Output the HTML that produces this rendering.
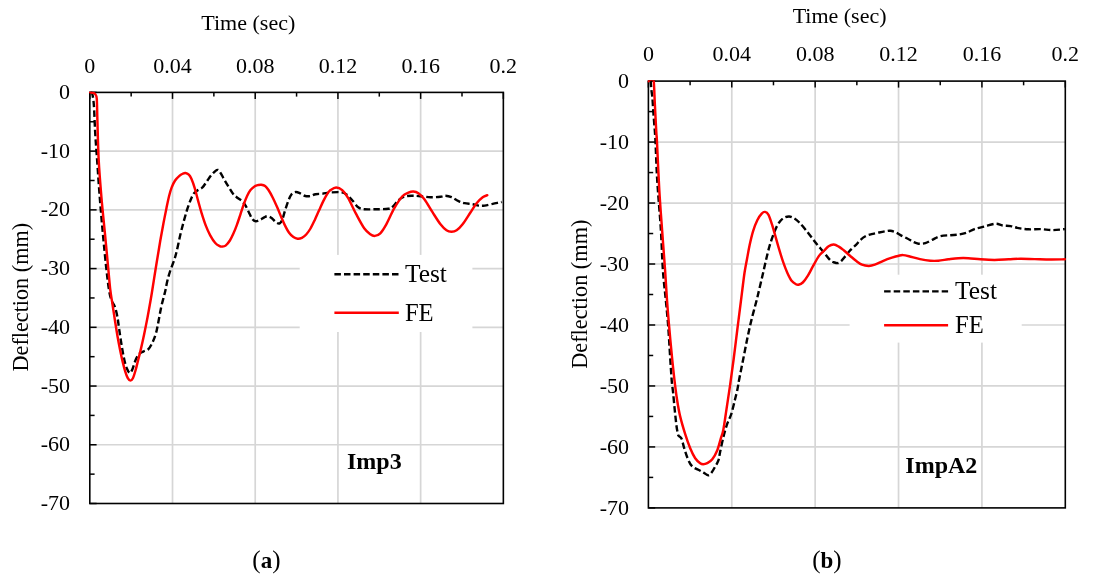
<!DOCTYPE html>
<html><head><meta charset="utf-8"><title>Deflection time histories</title>
<style>
html,body{margin:0;padding:0;background:#fff;}
body{width:1096px;height:584px;overflow:hidden;font-family:"Liberation Serif",serif;}
svg{display:block;will-change:transform;opacity:0.999;}
text{font-family:"Liberation Serif",serif;fill:#000;}
.g{stroke:#d6d6d6;stroke-width:1.7;fill:none;}
.t{stroke:#000;stroke-width:1.5;fill:none;}
.b{stroke:#000;stroke-width:1.6;fill:none;}
.fe{stroke:#ff0000;stroke-width:2.45;fill:none;stroke-linejoin:round;stroke-linecap:round;}
.te{stroke:#000;stroke-width:2.4;fill:none;stroke-dasharray:6.5 3.1;stroke-linejoin:round;}
</style></head><body>
<svg width="1096" height="584" viewBox="0 0 1096 584">
<rect width="1096" height="584" fill="#fff"/>
<defs>
<clipPath id="cl"><rect x="89.00" y="91.60" width="415.15" height="412.70"/></clipPath>
<clipPath id="cr"><rect x="647.60" y="80.30" width="418.50" height="428.40"/></clipPath>
</defs>
<g>
<line x1="172.51" y1="92.40" x2="172.51" y2="503.50" class="g"/>
<line x1="255.22" y1="92.40" x2="255.22" y2="503.50" class="g"/>
<line x1="337.93" y1="92.40" x2="337.93" y2="503.50" class="g"/>
<line x1="420.64" y1="92.40" x2="420.64" y2="503.50" class="g"/>
<line x1="89.80" y1="151.13" x2="503.35" y2="151.13" class="g"/>
<line x1="89.80" y1="209.86" x2="503.35" y2="209.86" class="g"/>
<line x1="89.80" y1="268.59" x2="503.35" y2="268.59" class="g"/>
<line x1="89.80" y1="327.31" x2="503.35" y2="327.31" class="g"/>
<line x1="89.80" y1="386.04" x2="503.35" y2="386.04" class="g"/>
<line x1="89.80" y1="444.77" x2="503.35" y2="444.77" class="g"/>
<rect x="299.7" y="254.9" width="172.7" height="77.1" fill="#fff"/>
<line x1="89.80" y1="92.40" x2="89.80" y2="98.90" class="t"/>
<line x1="131.16" y1="92.40" x2="131.16" y2="96.60" class="t"/>
<line x1="172.51" y1="92.40" x2="172.51" y2="98.90" class="t"/>
<line x1="213.87" y1="92.40" x2="213.87" y2="96.60" class="t"/>
<line x1="255.22" y1="92.40" x2="255.22" y2="98.90" class="t"/>
<line x1="296.57" y1="92.40" x2="296.57" y2="96.60" class="t"/>
<line x1="337.93" y1="92.40" x2="337.93" y2="98.90" class="t"/>
<line x1="379.29" y1="92.40" x2="379.29" y2="96.60" class="t"/>
<line x1="420.64" y1="92.40" x2="420.64" y2="98.90" class="t"/>
<line x1="462.00" y1="92.40" x2="462.00" y2="96.60" class="t"/>
<line x1="503.35" y1="92.40" x2="503.35" y2="98.90" class="t"/>
<line x1="89.80" y1="92.40" x2="96.60" y2="92.40" class="t"/>
<line x1="89.80" y1="121.76" x2="94.60" y2="121.76" class="t"/>
<line x1="89.80" y1="151.13" x2="96.60" y2="151.13" class="t"/>
<line x1="89.80" y1="180.49" x2="94.60" y2="180.49" class="t"/>
<line x1="89.80" y1="209.86" x2="96.60" y2="209.86" class="t"/>
<line x1="89.80" y1="239.22" x2="94.60" y2="239.22" class="t"/>
<line x1="89.80" y1="268.59" x2="96.60" y2="268.59" class="t"/>
<line x1="89.80" y1="297.95" x2="94.60" y2="297.95" class="t"/>
<line x1="89.80" y1="327.31" x2="96.60" y2="327.31" class="t"/>
<line x1="89.80" y1="356.68" x2="94.60" y2="356.68" class="t"/>
<line x1="89.80" y1="386.04" x2="96.60" y2="386.04" class="t"/>
<line x1="89.80" y1="415.41" x2="94.60" y2="415.41" class="t"/>
<line x1="89.80" y1="444.77" x2="96.60" y2="444.77" class="t"/>
<line x1="89.80" y1="474.14" x2="94.60" y2="474.14" class="t"/>
<line x1="89.80" y1="503.50" x2="96.60" y2="503.50" class="t"/>
<rect x="89.80" y="92.40" width="413.55" height="411.10" class="b"/>
<path class="te" clip-path="url(#cl)" d="M90.50,92.60 C90.80,92.83 91.73,91.83 92.30,94.00 C92.87,96.17 93.42,99.10 93.90,105.60 C94.38,112.10 94.67,123.93 95.20,133.00 C95.73,142.07 96.33,149.17 97.10,160.00 C97.87,170.83 98.83,185.67 99.80,198.00 C100.77,210.33 101.85,222.58 102.90,234.00 C103.95,245.42 105.08,257.17 106.10,266.50 C107.12,275.83 108.10,284.37 109.00,290.00 C109.90,295.63 110.50,297.45 111.50,300.30 C112.50,303.15 114.00,304.25 115.00,307.10 C116.00,309.95 116.80,313.68 117.50,317.40 C118.20,321.12 118.48,324.55 119.20,329.40 C119.92,334.25 120.93,341.37 121.80,346.50 C122.67,351.63 123.53,356.48 124.40,360.20 C125.27,363.92 126.08,366.67 127.00,368.80 C127.92,370.93 128.97,373.00 129.90,373.00 C130.83,373.00 131.67,370.93 132.60,368.80 C133.53,366.67 134.45,362.63 135.50,360.20 C136.55,357.77 137.62,355.63 138.90,354.20 C140.18,352.77 141.62,352.45 143.20,351.60 C144.78,350.75 146.83,350.67 148.40,349.10 C149.97,347.53 151.32,344.92 152.60,342.20 C153.88,339.48 155.10,336.37 156.10,332.80 C157.10,329.23 157.75,325.08 158.60,320.80 C159.45,316.52 160.33,311.10 161.20,307.10 C162.07,303.10 163.08,299.65 163.80,296.80 C164.52,293.95 164.93,292.55 165.50,290.00 C166.07,287.45 166.45,284.58 167.20,281.50 C167.95,278.42 168.83,275.08 170.00,271.50 C171.17,267.92 173.07,263.45 174.20,260.00 C175.33,256.55 175.80,254.92 176.80,250.80 C177.80,246.68 179.05,240.17 180.20,235.30 C181.35,230.43 182.55,225.87 183.70,221.60 C184.85,217.33 185.97,213.27 187.10,209.70 C188.23,206.13 189.37,202.92 190.50,200.20 C191.63,197.48 192.75,195.02 193.90,193.40 C195.05,191.78 195.97,191.50 197.40,190.50 C198.83,189.50 200.93,188.92 202.50,187.40 C204.07,185.88 205.37,183.40 206.80,181.40 C208.23,179.40 209.68,177.12 211.10,175.40 C212.52,173.68 214.17,172.02 215.30,171.10 C216.43,170.18 217.03,169.62 217.90,169.90 C218.77,170.18 219.35,171.03 220.50,172.80 C221.65,174.57 223.38,178.07 224.80,180.50 C226.22,182.93 227.57,185.12 229.00,187.40 C230.43,189.68 231.95,192.43 233.40,194.20 C234.85,195.97 236.27,196.85 237.70,198.00 C239.13,199.15 240.72,199.87 242.00,201.10 C243.28,202.33 244.27,203.55 245.40,205.40 C246.53,207.25 247.65,209.92 248.80,212.20 C249.95,214.48 251.15,217.58 252.30,219.10 C253.45,220.62 254.42,221.17 255.70,221.30 C256.98,221.43 258.58,220.55 260.00,219.90 C261.42,219.25 262.92,218.02 264.20,217.40 C265.48,216.78 266.42,216.07 267.70,216.20 C268.98,216.33 270.48,217.15 271.90,218.20 C273.32,219.25 274.90,221.63 276.20,222.50 C277.50,223.37 278.70,223.83 279.70,223.40 C280.70,222.97 281.35,221.90 282.20,219.90 C283.05,217.90 283.80,214.53 284.80,211.40 C285.80,208.27 287.07,203.97 288.20,201.10 C289.33,198.23 290.32,195.72 291.60,194.20 C292.88,192.68 294.47,192.13 295.90,192.00 C297.33,191.87 298.63,192.73 300.20,193.40 C301.77,194.07 303.58,195.57 305.30,196.00 C307.02,196.43 308.78,196.30 310.50,196.00 C312.22,195.70 313.60,194.58 315.60,194.20 C317.60,193.82 320.10,193.98 322.50,193.70 C324.90,193.42 327.07,192.75 330.00,192.50 C332.93,192.25 337.40,191.92 340.10,192.20 C342.80,192.48 344.18,192.87 346.20,194.20 C348.22,195.53 350.20,198.03 352.20,200.20 C354.20,202.37 356.20,205.70 358.20,207.20 C360.20,208.70 361.18,208.87 364.20,209.20 C367.22,209.53 372.28,209.27 376.30,209.20 C380.32,209.13 385.47,209.30 388.30,208.80 C391.13,208.30 391.62,207.63 393.30,206.20 C394.98,204.77 396.55,201.80 398.40,200.20 C400.25,198.60 402.07,197.33 404.40,196.60 C406.73,195.87 409.73,195.87 412.40,195.80 C415.07,195.73 417.38,195.97 420.40,196.20 C423.42,196.43 427.15,197.10 430.50,197.20 C433.85,197.30 438.00,197.03 440.50,196.80 C443.00,196.57 443.67,195.73 445.50,195.80 C447.33,195.87 449.32,196.30 451.50,197.20 C453.68,198.10 456.42,200.20 458.60,201.20 C460.78,202.20 462.27,202.70 464.60,203.20 C466.93,203.70 470.27,203.80 472.60,204.20 C474.93,204.60 476.58,205.37 478.60,205.60 C480.62,205.83 482.35,205.90 484.70,205.60 C487.05,205.30 490.03,204.37 492.70,203.80 C495.37,203.23 499.20,202.53 500.70,202.20 C502.20,201.87 501.53,201.87 501.70,201.80"/>
<path class="fe" clip-path="url(#cl)" d="M90.10,92.40 C90.67,92.48 92.58,92.52 93.50,92.90 C94.42,93.28 95.05,93.65 95.60,94.70 C96.15,95.75 96.50,94.95 96.80,99.20 C97.10,103.45 97.08,110.07 97.40,120.20 C97.72,130.33 98.02,147.03 98.70,160.00 C99.38,172.97 100.45,185.67 101.50,198.00 C102.55,210.33 103.87,222.17 105.00,234.00 C106.13,245.83 107.42,259.67 108.30,269.00 C109.18,278.33 109.62,284.22 110.30,290.00 C110.98,295.78 111.62,298.57 112.40,303.70 C113.18,308.83 114.15,315.38 115.00,320.80 C115.85,326.22 116.65,331.35 117.50,336.20 C118.35,341.05 119.23,345.62 120.10,349.90 C120.97,354.18 121.85,358.33 122.70,361.90 C123.55,365.47 124.35,368.58 125.20,371.30 C126.05,374.02 126.93,376.65 127.80,378.20 C128.67,379.75 129.55,380.60 130.40,380.60 C131.25,380.60 132.05,379.88 132.90,378.20 C133.75,376.52 134.63,373.50 135.50,370.50 C136.37,367.50 137.23,363.63 138.10,360.20 C138.97,356.77 139.70,354.18 140.70,349.90 C141.70,345.62 142.97,339.92 144.10,334.50 C145.23,329.08 146.42,323.10 147.50,317.40 C148.58,311.70 149.80,304.87 150.60,300.30 C151.40,295.73 151.45,295.30 152.30,290.00 C153.15,284.70 154.58,275.42 155.70,268.50 C156.82,261.58 158.15,253.63 159.00,248.50 C159.85,243.37 160.03,242.02 160.80,237.70 C161.57,233.38 162.65,227.57 163.60,222.60 C164.55,217.63 165.58,212.33 166.50,207.90 C167.42,203.47 168.23,199.42 169.10,196.00 C169.97,192.58 170.70,189.98 171.70,187.40 C172.70,184.82 173.82,182.43 175.10,180.50 C176.38,178.57 178.12,176.93 179.40,175.80 C180.68,174.67 181.80,174.17 182.80,173.70 C183.80,173.23 184.40,172.85 185.40,173.00 C186.40,173.15 187.80,173.63 188.80,174.60 C189.80,175.57 190.40,176.52 191.40,178.80 C192.40,181.08 193.67,184.58 194.80,188.30 C195.93,192.02 197.07,196.97 198.20,201.10 C199.33,205.23 200.32,208.97 201.60,213.10 C202.88,217.23 204.47,222.20 205.90,225.90 C207.33,229.60 208.63,232.45 210.20,235.30 C211.77,238.15 213.73,241.20 215.30,243.00 C216.87,244.80 218.45,245.50 219.60,246.10 C220.75,246.70 221.20,246.68 222.20,246.60 C223.20,246.52 224.32,246.62 225.60,245.60 C226.88,244.58 228.60,242.50 229.90,240.50 C231.20,238.50 232.25,236.17 233.40,233.60 C234.55,231.03 235.65,228.23 236.80,225.10 C237.95,221.97 239.15,218.23 240.30,214.80 C241.45,211.37 242.57,207.63 243.70,204.50 C244.83,201.37 245.97,198.42 247.10,196.00 C248.23,193.58 249.22,191.63 250.50,190.00 C251.78,188.37 253.50,187.03 254.80,186.20 C256.10,185.37 257.22,185.25 258.30,185.00 C259.38,184.75 260.17,184.53 261.30,184.70 C262.43,184.87 263.90,185.12 265.10,186.00 C266.30,186.88 267.22,188.05 268.50,190.00 C269.78,191.95 271.37,194.85 272.80,197.70 C274.23,200.55 275.67,203.82 277.10,207.10 C278.53,210.38 280.12,214.40 281.40,217.40 C282.68,220.40 283.52,222.53 284.80,225.10 C286.08,227.67 287.67,230.80 289.10,232.80 C290.53,234.80 291.98,236.10 293.40,237.10 C294.82,238.10 296.18,238.67 297.60,238.80 C299.02,238.93 300.47,238.62 301.90,237.90 C303.33,237.18 304.77,236.07 306.20,234.50 C307.63,232.93 309.07,230.93 310.50,228.50 C311.93,226.07 313.38,222.90 314.80,219.90 C316.22,216.90 317.58,213.63 319.00,210.50 C320.42,207.37 321.87,203.95 323.30,201.10 C324.73,198.25 326.40,195.23 327.60,193.40 C328.80,191.57 329.08,191.08 330.50,190.10 C331.92,189.12 334.15,187.50 336.10,187.50 C338.05,187.50 340.18,188.32 342.20,190.10 C344.22,191.88 345.87,194.18 348.20,198.20 C350.53,202.22 353.53,209.18 356.20,214.20 C358.87,219.22 361.85,224.95 364.20,228.30 C366.55,231.65 368.52,233.03 370.30,234.30 C372.08,235.57 373.23,236.07 374.90,235.90 C376.57,235.73 378.40,235.23 380.30,233.30 C382.20,231.37 383.97,228.48 386.30,224.30 C388.63,220.12 391.62,212.88 394.30,208.20 C396.98,203.52 400.05,198.80 402.40,196.20 C404.75,193.60 406.57,193.38 408.40,192.60 C410.23,191.82 411.73,191.40 413.40,191.50 C415.07,191.60 416.57,191.92 418.40,193.20 C420.23,194.48 422.05,196.03 424.40,199.20 C426.75,202.37 429.82,208.02 432.50,212.20 C435.18,216.38 438.17,221.28 440.50,224.30 C442.83,227.32 444.67,229.07 446.50,230.30 C448.33,231.53 449.82,231.70 451.50,231.70 C453.18,231.70 454.75,231.53 456.60,230.30 C458.45,229.07 460.27,227.32 462.60,224.30 C464.93,221.28 468.27,215.72 470.60,212.20 C472.93,208.68 474.58,205.70 476.60,203.20 C478.62,200.70 480.92,198.53 482.70,197.20 C484.48,195.87 486.53,195.53 487.30,195.20"/>
<text x="89.80" y="73.00" text-anchor="middle" font-size="22">0</text>
<text x="172.51" y="73.00" text-anchor="middle" font-size="22">0.04</text>
<text x="255.22" y="73.00" text-anchor="middle" font-size="22">0.08</text>
<text x="337.93" y="73.00" text-anchor="middle" font-size="22">0.12</text>
<text x="420.64" y="73.00" text-anchor="middle" font-size="22">0.16</text>
<text x="503.35" y="73.00" text-anchor="middle" font-size="22">0.2</text>
<text x="70.00" y="98.94" text-anchor="end" font-size="22">0</text>
<text x="70.00" y="157.66" text-anchor="end" font-size="22">-10</text>
<text x="70.00" y="216.39" text-anchor="end" font-size="22">-20</text>
<text x="70.00" y="275.12" text-anchor="end" font-size="22">-30</text>
<text x="70.00" y="333.85" text-anchor="end" font-size="22">-40</text>
<text x="70.00" y="392.58" text-anchor="end" font-size="22">-50</text>
<text x="70.00" y="451.31" text-anchor="end" font-size="22">-60</text>
<text x="70.00" y="510.04" text-anchor="end" font-size="22">-70</text>
<text x="248.3" y="29.6" text-anchor="middle" font-size="22">Time (sec)</text>
<text transform="translate(27.5,297.2) rotate(-90)" text-anchor="middle" font-size="22.2">Deflection (mm)</text>
<line x1="334.4" y1="274.2" x2="398.8" y2="274.2" class="te"/>
<line x1="334.4" y1="312.8" x2="398.8" y2="312.8" class="fe" style="stroke-linecap:butt"/>
<text x="404.9" y="281.7" font-size="24.7" textLength="42" lengthAdjust="spacingAndGlyphs">Test</text>
<text x="404.9" y="320.8" font-size="24.6">FE</text>
<text x="347.0" y="468.7" font-size="24" font-weight="bold">Imp3</text>
<text x="266.4" y="567.8" text-anchor="middle" font-size="25">(<tspan font-weight="bold" font-size="23">a</tspan>)</text>
</g>
<g>
<line x1="731.78" y1="81.10" x2="731.78" y2="507.90" class="g"/>
<line x1="815.16" y1="81.10" x2="815.16" y2="507.90" class="g"/>
<line x1="898.54" y1="81.10" x2="898.54" y2="507.90" class="g"/>
<line x1="981.92" y1="81.10" x2="981.92" y2="507.90" class="g"/>
<line x1="648.40" y1="142.07" x2="1065.30" y2="142.07" class="g"/>
<line x1="648.40" y1="203.04" x2="1065.30" y2="203.04" class="g"/>
<line x1="648.40" y1="264.01" x2="1065.30" y2="264.01" class="g"/>
<line x1="648.40" y1="324.99" x2="1065.30" y2="324.99" class="g"/>
<line x1="648.40" y1="385.96" x2="1065.30" y2="385.96" class="g"/>
<line x1="648.40" y1="446.93" x2="1065.30" y2="446.93" class="g"/>
<rect x="849.6" y="274.7" width="172.1" height="67.9" fill="#fff"/>
<line x1="648.40" y1="81.10" x2="648.40" y2="87.60" class="t"/>
<line x1="690.09" y1="81.10" x2="690.09" y2="85.30" class="t"/>
<line x1="731.78" y1="81.10" x2="731.78" y2="87.60" class="t"/>
<line x1="773.47" y1="81.10" x2="773.47" y2="85.30" class="t"/>
<line x1="815.16" y1="81.10" x2="815.16" y2="87.60" class="t"/>
<line x1="856.85" y1="81.10" x2="856.85" y2="85.30" class="t"/>
<line x1="898.54" y1="81.10" x2="898.54" y2="87.60" class="t"/>
<line x1="940.23" y1="81.10" x2="940.23" y2="85.30" class="t"/>
<line x1="981.92" y1="81.10" x2="981.92" y2="87.60" class="t"/>
<line x1="1023.61" y1="81.10" x2="1023.61" y2="85.30" class="t"/>
<line x1="1065.30" y1="81.10" x2="1065.30" y2="87.60" class="t"/>
<line x1="648.40" y1="81.10" x2="655.20" y2="81.10" class="t"/>
<line x1="648.40" y1="111.59" x2="653.20" y2="111.59" class="t"/>
<line x1="648.40" y1="142.07" x2="655.20" y2="142.07" class="t"/>
<line x1="648.40" y1="172.56" x2="653.20" y2="172.56" class="t"/>
<line x1="648.40" y1="203.04" x2="655.20" y2="203.04" class="t"/>
<line x1="648.40" y1="233.53" x2="653.20" y2="233.53" class="t"/>
<line x1="648.40" y1="264.01" x2="655.20" y2="264.01" class="t"/>
<line x1="648.40" y1="294.50" x2="653.20" y2="294.50" class="t"/>
<line x1="648.40" y1="324.99" x2="655.20" y2="324.99" class="t"/>
<line x1="648.40" y1="355.47" x2="653.20" y2="355.47" class="t"/>
<line x1="648.40" y1="385.96" x2="655.20" y2="385.96" class="t"/>
<line x1="648.40" y1="416.44" x2="653.20" y2="416.44" class="t"/>
<line x1="648.40" y1="446.93" x2="655.20" y2="446.93" class="t"/>
<line x1="648.40" y1="477.41" x2="653.20" y2="477.41" class="t"/>
<line x1="648.40" y1="507.90" x2="655.20" y2="507.90" class="t"/>
<rect x="648.40" y="81.10" width="416.90" height="426.80" class="b"/>
<path class="te" clip-path="url(#cr)" d="M650.60,80.60 C650.73,82.17 651.10,87.15 651.40,90.00 C651.70,92.85 652.07,93.87 652.40,97.70 C652.73,101.53 652.98,107.28 653.40,113.00 C653.82,118.72 654.55,127.17 654.90,132.00 C655.25,136.83 655.18,135.20 655.50,142.00 C655.82,148.80 656.37,164.30 656.80,172.80 C657.23,181.30 657.42,183.45 658.10,193.00 C658.78,202.55 660.10,217.22 660.90,230.10 C661.70,242.98 662.08,258.65 662.90,270.30 C663.72,281.95 664.93,290.90 665.80,300.00 C666.67,309.10 667.38,315.53 668.10,324.90 C668.82,334.27 669.50,346.97 670.10,356.20 C670.70,365.43 671.20,374.23 671.70,380.30 C672.20,386.37 672.58,387.57 673.10,392.60 C673.62,397.63 674.23,404.93 674.80,410.50 C675.37,416.07 676.03,422.33 676.50,426.00 C676.97,429.67 677.27,430.90 677.60,432.50 C677.93,434.10 677.85,434.58 678.50,435.60 C679.15,436.62 680.55,436.50 681.50,438.60 C682.45,440.70 683.17,444.88 684.20,448.20 C685.23,451.52 686.40,455.50 687.70,458.50 C689.00,461.50 690.00,464.20 692.00,466.20 C694.00,468.20 697.70,469.38 699.70,470.50 C701.70,471.62 702.58,472.12 704.00,472.90 C705.42,473.68 706.93,475.25 708.20,475.20 C709.47,475.15 710.32,474.25 711.60,472.60 C712.88,470.95 714.75,467.37 715.90,465.30 C717.05,463.23 717.78,462.48 718.50,460.20 C719.22,457.92 719.35,455.60 720.20,451.60 C721.05,447.60 722.45,440.77 723.60,436.20 C724.75,431.63 725.82,427.90 727.10,424.20 C728.38,420.50 730.02,417.98 731.30,414.00 C732.58,410.02 733.80,404.30 734.80,400.30 C735.80,396.30 736.53,393.67 737.30,390.00 C738.07,386.33 738.38,383.60 739.40,378.30 C740.42,373.00 742.07,364.90 743.40,358.20 C744.73,351.50 746.07,344.45 747.40,338.10 C748.73,331.75 749.85,326.45 751.40,320.10 C752.95,313.75 755.42,305.02 756.70,300.00 C757.98,294.98 758.13,294.07 759.10,290.00 C760.07,285.93 761.35,280.57 762.50,275.60 C763.65,270.63 764.85,265.05 766.00,260.20 C767.15,255.35 768.27,250.50 769.40,246.50 C770.53,242.50 771.67,239.33 772.80,236.20 C773.93,233.07 775.05,230.12 776.20,227.70 C777.35,225.28 778.42,223.33 779.70,221.70 C780.98,220.07 782.33,218.77 783.90,217.90 C785.47,217.03 787.38,216.43 789.10,216.50 C790.82,216.57 792.50,217.30 794.20,218.30 C795.90,219.30 797.45,220.65 799.30,222.50 C801.15,224.35 803.30,226.97 805.30,229.40 C807.30,231.83 809.30,234.53 811.30,237.10 C813.30,239.67 815.30,242.38 817.30,244.80 C819.30,247.22 821.13,249.02 823.30,251.60 C825.47,254.18 828.42,258.48 830.30,260.30 C832.18,262.12 833.32,262.05 834.60,262.50 C835.88,262.95 836.87,263.28 838.00,263.00 C839.13,262.72 840.12,262.02 841.40,260.80 C842.68,259.58 844.13,257.55 845.70,255.70 C847.27,253.85 849.08,251.50 850.80,249.70 C852.52,247.90 854.43,246.48 856.00,244.90 C857.57,243.32 858.63,241.63 860.20,240.20 C861.77,238.77 863.53,237.30 865.40,236.30 C867.27,235.30 869.12,234.83 871.40,234.20 C873.68,233.57 876.68,233.00 879.10,232.50 C881.52,232.00 884.05,231.48 885.90,231.20 C887.75,230.92 888.63,230.63 890.20,230.80 C891.77,230.97 893.58,231.48 895.30,232.20 C897.02,232.92 898.50,234.05 900.50,235.10 C902.50,236.15 905.17,237.37 907.30,238.50 C909.43,239.63 911.43,241.03 913.30,241.90 C915.17,242.77 916.50,243.48 918.50,243.70 C920.50,243.92 923.00,243.85 925.30,243.20 C927.60,242.55 929.80,240.97 932.30,239.80 C934.80,238.63 937.28,236.97 940.30,236.20 C943.32,235.43 947.38,235.47 950.40,235.20 C953.42,234.93 955.73,235.00 958.40,234.60 C961.07,234.20 963.72,233.72 966.40,232.80 C969.08,231.88 971.48,230.15 974.50,229.10 C977.52,228.05 981.00,227.40 984.50,226.50 C988.00,225.60 992.48,223.87 995.50,223.70 C998.52,223.53 1000.08,225.10 1002.60,225.50 C1005.12,225.90 1007.93,225.67 1010.60,226.10 C1013.27,226.53 1015.60,227.57 1018.60,228.10 C1021.60,228.63 1024.92,229.13 1028.60,229.30 C1032.28,229.47 1036.68,228.97 1040.70,229.10 C1044.72,229.23 1048.68,230.10 1052.70,230.10 C1056.72,230.10 1062.78,229.27 1064.80,229.10"/>
<path class="fe" clip-path="url(#cr)" d="M648.40,81.20 C648.75,80.97 649.73,80.07 650.50,79.80 C651.27,79.53 652.43,79.07 653.00,79.60 C653.57,80.13 653.58,78.77 653.90,83.00 C654.22,87.23 654.50,96.83 654.90,105.00 C655.30,113.17 655.95,125.80 656.30,132.00 C656.65,138.20 656.50,132.53 657.00,142.20 C657.50,151.87 658.45,175.35 659.30,190.00 C660.15,204.65 661.13,216.72 662.10,230.10 C663.07,243.48 664.28,258.65 665.10,270.30 C665.92,281.95 666.35,290.90 667.00,300.00 C667.65,309.10 668.18,315.53 669.00,324.90 C669.82,334.27 670.98,346.97 671.90,356.20 C672.82,365.43 673.63,373.00 674.50,380.30 C675.37,387.60 676.17,394.03 677.10,400.00 C678.03,405.97 678.75,410.42 680.10,416.10 C681.45,421.78 683.52,428.75 685.20,434.10 C686.88,439.45 688.53,444.18 690.20,448.20 C691.87,452.22 693.53,455.70 695.20,458.20 C696.87,460.70 698.87,462.20 700.20,463.20 C701.53,464.20 702.03,464.20 703.20,464.20 C704.37,464.20 705.68,464.03 707.20,463.20 C708.72,462.37 710.62,461.37 712.30,459.20 C713.98,457.03 715.87,453.72 717.30,450.20 C718.73,446.68 719.90,441.47 720.90,438.10 C721.90,434.73 722.38,434.70 723.30,430.00 C724.22,425.30 725.28,417.25 726.40,409.90 C727.52,402.55 728.80,394.30 730.00,385.90 C731.20,377.50 732.40,368.73 733.60,359.50 C734.80,350.27 736.00,340.08 737.20,330.50 C738.40,320.92 739.95,308.75 740.80,302.00 C741.65,295.25 741.67,294.97 742.30,290.00 C742.93,285.03 743.80,277.45 744.60,272.20 C745.40,266.95 746.25,263.07 747.10,258.50 C747.95,253.93 748.70,249.37 749.70,244.80 C750.70,240.23 751.82,235.23 753.10,231.10 C754.38,226.97 755.97,222.92 757.40,220.00 C758.83,217.08 760.42,214.95 761.70,213.60 C762.98,212.25 763.97,211.70 765.10,211.90 C766.23,212.10 767.37,212.75 768.50,214.80 C769.63,216.85 770.75,220.63 771.90,224.20 C773.05,227.77 774.25,232.20 775.40,236.20 C776.55,240.20 777.52,243.92 778.80,248.20 C780.08,252.48 781.67,257.77 783.10,261.90 C784.53,266.03 785.98,269.85 787.40,273.00 C788.82,276.15 790.18,278.93 791.60,280.80 C793.02,282.67 794.75,283.55 795.90,284.20 C797.05,284.85 797.35,284.98 798.50,284.70 C799.65,284.42 801.23,284.02 802.80,282.50 C804.37,280.98 806.20,278.32 807.90,275.60 C809.60,272.88 811.15,269.48 813.00,266.20 C814.85,262.92 817.12,258.52 819.00,255.90 C820.88,253.28 822.70,252.12 824.30,250.50 C825.90,248.88 827.03,247.20 828.60,246.20 C830.17,245.20 832.00,244.43 833.70,244.50 C835.40,244.57 837.08,245.60 838.80,246.60 C840.52,247.60 842.13,248.98 844.00,250.50 C845.87,252.02 848.00,253.98 850.00,255.70 C852.00,257.42 854.00,259.30 856.00,260.80 C858.00,262.30 859.87,263.85 862.00,264.70 C864.13,265.55 866.67,265.90 868.80,265.90 C870.93,265.90 872.37,265.55 874.80,264.70 C877.23,263.85 880.55,261.97 883.40,260.80 C886.25,259.63 889.33,258.55 891.90,257.70 C894.47,256.85 896.95,256.13 898.80,255.70 C900.65,255.27 901.30,255.02 903.00,255.10 C904.70,255.18 906.17,255.53 909.00,256.20 C911.83,256.87 916.45,258.35 920.00,259.10 C923.55,259.85 927.25,260.43 930.30,260.70 C933.35,260.97 935.28,260.93 938.30,260.70 C941.32,260.47 945.05,259.72 948.40,259.30 C951.75,258.88 955.07,258.38 958.40,258.20 C961.73,258.02 964.72,258.02 968.40,258.20 C972.08,258.38 976.15,259.02 980.50,259.30 C984.85,259.58 989.82,259.90 994.50,259.90 C999.18,259.90 1004.25,259.50 1008.60,259.30 C1012.95,259.10 1016.25,258.73 1020.60,258.70 C1024.95,258.67 1029.68,258.97 1034.70,259.10 C1039.72,259.23 1045.68,259.47 1050.70,259.50 C1055.72,259.53 1062.45,259.33 1064.80,259.30"/>
<text x="648.40" y="61.10" text-anchor="middle" font-size="22">0</text>
<text x="731.78" y="61.10" text-anchor="middle" font-size="22">0.04</text>
<text x="815.16" y="61.10" text-anchor="middle" font-size="22">0.08</text>
<text x="898.54" y="61.10" text-anchor="middle" font-size="22">0.12</text>
<text x="981.92" y="61.10" text-anchor="middle" font-size="22">0.16</text>
<text x="1065.30" y="61.10" text-anchor="middle" font-size="22">0.2</text>
<text x="629.00" y="88.44" text-anchor="end" font-size="22">0</text>
<text x="629.00" y="149.41" text-anchor="end" font-size="22">-10</text>
<text x="629.00" y="210.38" text-anchor="end" font-size="22">-20</text>
<text x="629.00" y="271.35" text-anchor="end" font-size="22">-30</text>
<text x="629.00" y="332.32" text-anchor="end" font-size="22">-40</text>
<text x="629.00" y="393.29" text-anchor="end" font-size="22">-50</text>
<text x="629.00" y="454.26" text-anchor="end" font-size="22">-60</text>
<text x="629.00" y="515.24" text-anchor="end" font-size="22">-70</text>
<text x="839.6" y="23.4" text-anchor="middle" font-size="22">Time (sec)</text>
<text transform="translate(587,294.2) rotate(-90)" text-anchor="middle" font-size="22.3">Deflection (mm)</text>
<line x1="884.1" y1="291.4" x2="948.1" y2="291.4" class="te"/>
<line x1="884.1" y1="325.2" x2="948.1" y2="325.2" class="fe" style="stroke-linecap:butt"/>
<text x="955" y="298.8" font-size="24.7" textLength="42" lengthAdjust="spacingAndGlyphs">Test</text>
<text x="955" y="333.2" font-size="24.6">FE</text>
<text x="905.3" y="473" font-size="24" font-weight="bold">ImpA2</text>
<text x="826.9" y="567.8" text-anchor="middle" font-size="25">(<tspan font-weight="bold" font-size="23">b</tspan>)</text>
</g>
</svg></body></html>
